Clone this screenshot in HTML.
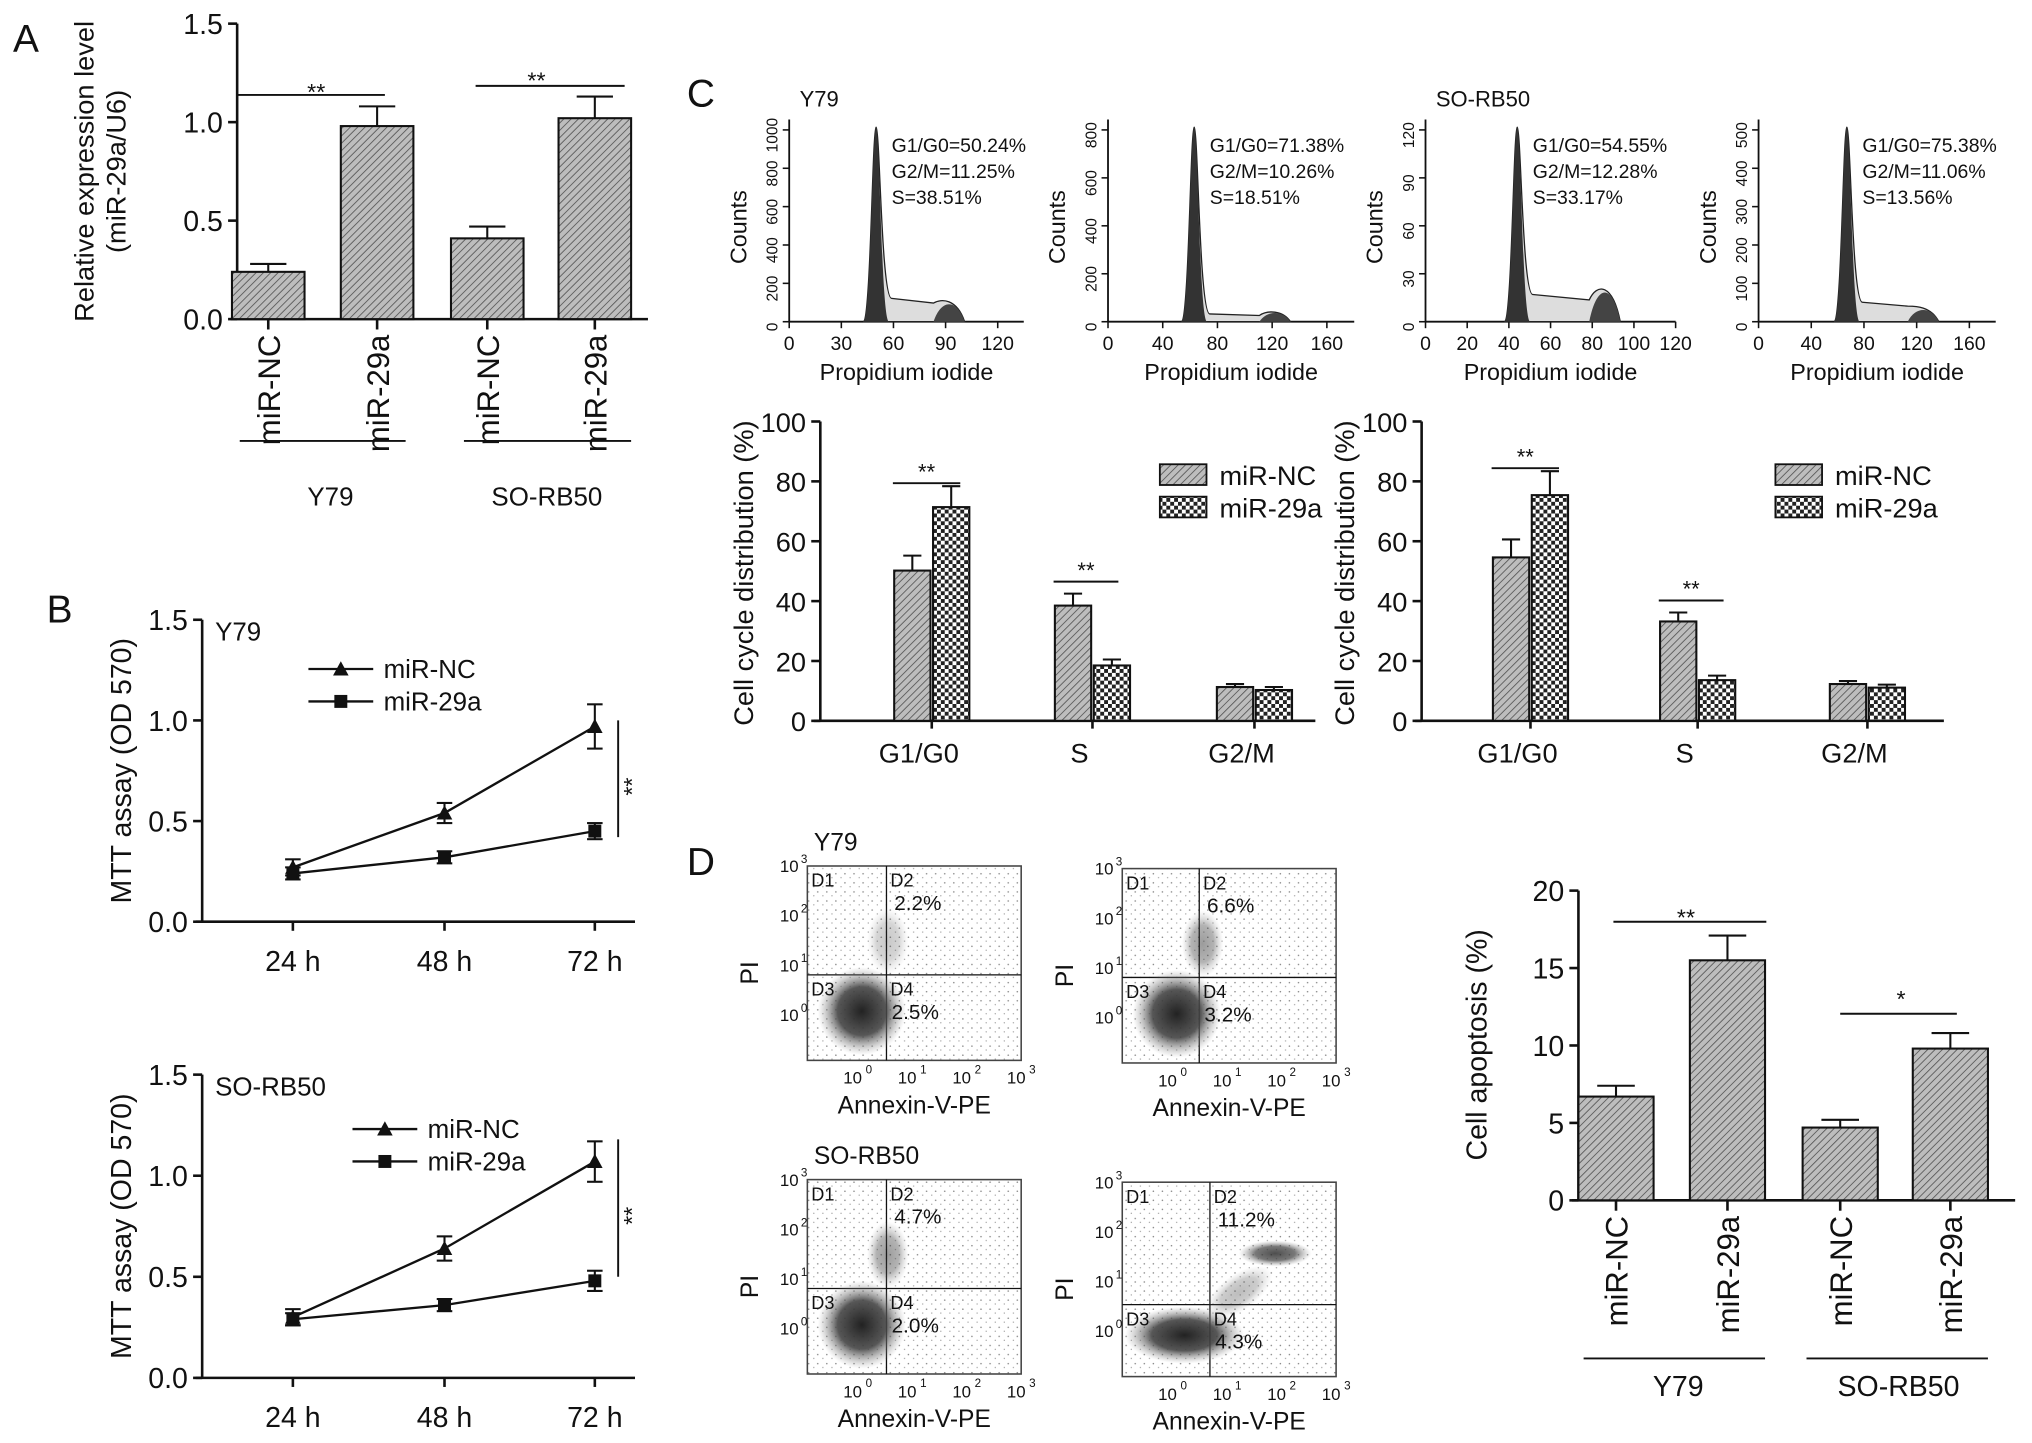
<!DOCTYPE html>
<html><head><meta charset="utf-8">
<style>
html,body{margin:0;padding:0;background:#fff}
svg{display:block;font-family:"Liberation Sans",Arial,sans-serif}
</style></head>
<body>
<svg id="fig" width="2032" height="1443" viewBox="0 0 1568 1113" xmlns="http://www.w3.org/2000/svg">
<defs>
<pattern id="hatch" patternUnits="userSpaceOnUse" width="4" height="4" patternTransform="rotate(45)">
<rect width="4" height="4" fill="#bdbdbd"/><line x1="0" y1="0" x2="0" y2="4" stroke="#555" stroke-width="1.3"/></pattern>
<pattern id="check" patternUnits="userSpaceOnUse" width="6" height="6">
<rect width="6" height="6" fill="#fff"/><rect width="3" height="3" fill="#222"/><rect x="3" y="3" width="3" height="3" fill="#222"/></pattern>
<radialGradient id="blob"><stop offset="0" stop-color="#222"/><stop offset="0.55" stop-color="#444" stop-opacity="0.9"/><stop offset="1" stop-color="#999" stop-opacity="0"/></radialGradient>
<pattern id="speck" patternUnits="userSpaceOnUse" width="7" height="7">
<circle cx="1" cy="2" r="0.6" fill="#888"/><circle cx="5" cy="5" r="0.5" fill="#999"/></pattern>
</defs>
<g id="root"></g>
</svg>
<script>
// Panel A
const aCats = ["miR-NC","miR-29a","miR-NC","miR-29a"];
const aVals = [0.24,0.98,0.41,1.02];
const aErr = [0.04,0.10,0.06,0.11];
const aTicks = ["0.0","0.5","1.0","1.5"];
// Panel B
const bTimes = ["24 h","48 h","72 h"];
const bY79NC = [0.27,0.54,0.97];
const bY79NCe = [0.04,0.05,0.11];
const bY7929 = [0.24,0.32,0.45];
const bY7929e = [0.03,0.03,0.04];
const bSONC = [0.30,0.64,1.07];
const bSONCe = [0.04,0.06,0.10];
const bSO29 = [0.29,0.36,0.48];
const bSO29e = [0.03,0.03,0.05];
const bTicks = ["0.0","0.5","1.0","1.5"];
// Panel C bars
const cPhases = ["G1/G0","S","G2/M"];
const cY79NC = [50.2,38.5,11.3];
const cY79NCe = [5,4,1];
const cY7929 = [71.4,18.5,10.3];
const cY7929e = [7,2,1];
const cSONC = [54.6,33.2,12.3];
const cSONCe = [6,3,1];
const cSO29 = [75.4,13.6,11.1];
const cSO29e = [8,1.5,1];
const cTicks = ["0","20","40","60","80","100"];
// Panel D bars
const dCats = ["miR-NC","miR-29a","miR-NC","miR-29a"];
const dVals = [6.7,15.5,4.7,9.8];
const dErr = [0.7,1.6,0.5,1.0];
const dTicks = ["0","5","10","15","20"];

const NS="http://www.w3.org/2000/svg";
const root=document.getElementById('root');
function el(tag,attrs,parent,text){const e=document.createElementNS(NS,tag);for(const k in attrs)e.setAttribute(k,attrs[k]);if(text!==undefined)e.textContent=text;(parent||root).appendChild(e);return e;}
function line(x1,y1,x2,y2,w,p){return el('line',{x1,y1,x2,y2,stroke:'#111','stroke-width':w||1.6},p);}
function txt(x,y,s,size,anchor,p,rot){const a={x,y,'font-size':size,'text-anchor':anchor||'middle',fill:'#111'};if(rot)a.transform=`rotate(-90 ${x} ${y})`;return el('text',a,p,s);}
function grp(name){const g=el('g',{});return g;}

[["A",10,40],["B",36,480],["C",530,82],["D",530,675]].forEach(l=>{const t=txt(l[1],l[2],l[0],30,'start');});

function barChart(g,o){
  const ys=v=>o.y0-(v-o.min)/(o.max-o.min)*(o.y0-o.y1);
  line(o.x0,o.y0,o.x0,o.y1,2,g);line(o.x0-5,o.y0,o.xEnd,o.y0,2,g);
  o.ticks.forEach(t=>{const y=ys(parseFloat(t));line(o.x0-7,y,o.x0,y,2,g);const tl=txt(o.x0-11,y+8,t,o.tsize||22,'end',g);});
  return ys;
}
function drawBar(g,cx,w,v,e,ys,fill,y0){
  const r=el('rect',{x:cx-w/2,y:ys(v),width:w,height:y0-ys(v),fill:fill,stroke:'#111','stroke-width':1.6},g);
  
  line(cx,ys(v),cx,ys(v+e),1.6,g);line(cx-w/4,ys(v+e),cx+w/4,ys(v+e),1.6,g);
}

// Panel A
(function(){const g=grp('panel-a-chart');
 const o={x0:183,y0:246,y1:18,min:0,max:1.5,xEnd:500,ticks:aTicks};
 const ys=barChart(g,o);const cx=[207,291,376,459];
 aVals.forEach((v,i)=>{drawBar(g,cx[i],56,v,aErr[i],ys,'url(#hatch)',o.y0);line(cx[i],o.y0,cx[i],o.y0+8,2,g);
  const t=txt(cx[i]+9,o.y0+12,aCats[i],24,'end',g,true);});
 const yt=txt(72,132,"Relative expression level",21,'middle',g,true);
 txt(97,132,"(miR-29a/U6)",21,'middle',g,true);
 line(185,340,313,340,1.5,g);line(358,340,487,340,1.5,g);
 txt(255,390,"Y79",20,'middle',g);txt(422,390,"SO-RB50",20,'middle',g);
 line(183,73,297,73,1.5,g);txt(244,77,"**",18,'middle',g);
 line(367,66,482,66,1.5,g);txt(414,68,"**",18,'middle',g);
})();

function lineChart(name,yTop,y0,nc,nce,a,ae,legY,legX,label,sig){
 const g=grp(name);const o={x0:156,y0:y0,y1:yTop,min:0,max:1.5,xEnd:490,ticks:bTicks};
 const ys=barChart(g,o);const xs=[226,343,459];
 bTimes.forEach((t,i)=>{line(xs[i],y0,xs[i],y0+7,2,g);const l=txt(xs[i],y0+38,t,22,'middle',g);});
 [[nc,nce,'tri','miR-NC'],[a,ae,'sq','miR-29a']].forEach((s,k)=>{
  const pts=s[0].map((v,i)=>xs[i]+','+ys(v)).join(' ');
  const pl=el('polyline',{points:pts,fill:'none',stroke:'#111','stroke-width':1.8},g);
  s[0].forEach((v,i)=>{line(xs[i],ys(v-s[1][i]),xs[i],ys(v+s[1][i]),1.6,g);line(xs[i]-6,ys(v+s[1][i]),xs[i]+6,ys(v+s[1][i]),1.6,g);line(xs[i]-6,ys(v-s[1][i]),xs[i]+6,ys(v-s[1][i]),1.6,g);
   let m;if(s[2]==='tri')m=el('polygon',{points:`${xs[i]-6},${ys(v)+5} ${xs[i]+6},${ys(v)+5} ${xs[i]},${ys(v)-6}`,fill:'#111'},g);else m=el('rect',{x:xs[i]-5,y:ys(v)-5,width:10,height:10,fill:'#111'},g);
   });
  const ly=legY+k*25;line(legX,ly,legX+50,ly,1.8,g);
  if(s[2]==='tri')el('polygon',{points:`${legX+19},${ly+5} ${legX+31},${ly+5} ${legX+25},${ly-6}`,fill:'#111'},g);else el('rect',{x:legX+20,y:ly-5,width:10,height:10,fill:'#111'},g);
  const lt=txt(legX+58,ly+7,s[3],20,'start',g);});
 txt(166,yTop+16,label,20,'start',g);
 const yt=txt(101,(yTop+y0)/2,"MTT assay (OD 570)",22,'middle',g,true);
 line(477,ys(sig[0]),477,ys(sig[1]),1.5,g);txt(494,ys((sig[0]+sig[1])/2)+6,"**",18,'middle',g,true);
}
lineChart('panel-b-y79',478,711,bY79NC,bY79NCe,bY7929,bY7929e,516,238,"Y79",[0.42,1.0]);
lineChart('panel-b-sorb50',829,1063,bSONC,bSONCe,bSO29,bSO29e,871,272,"SO-RB50",[0.5,1.18]);

// Panel C histograms
const hists=[{x0:609,x1:790,ticks:["0","30","60","90","120"],tmax:135,yt:["0","200","400","600","800","1000"],peak:50,g2:92,txt:["G1/G0=50.24%","G2/M=11.25%","S=38.51%"],s:0.12,g2h:0.12,title:"Y79"},
 {x0:855,x1:1045,ticks:["0","40","80","120","160"],tmax:180,yt:["0","200","400","600","800"],peak:63,g2:122,txt:["G1/G0=71.38%","G2/M=10.26%","S=18.51%"],s:0.04,g2h:0.06,title:""},
 {x0:1100,x1:1293,ticks:["0","20","40","60","80","100","120"],tmax:120,yt:["0","30","60","90","120"],peak:44,g2:86,txt:["G1/G0=54.55%","G2/M=12.28%","S=33.17%"],s:0.14,g2h:0.2,title:"SO-RB50"},
 {x0:1357,x1:1540,ticks:["0","40","80","120","160"],tmax:180,yt:["0","100","200","300","400","500"],peak:67,g2:125,txt:["G1/G0=75.38%","G2/M=11.06%","S=13.56%"],s:0.1,g2h:0.08,title:""}];
hists.forEach((h,k)=>{const g=grp('histogram-'+(k+1));const y0=248,yT=92;
 line(h.x0,y0,h.x1,y0,1.4,g);line(h.x0,y0,h.x0,yT,1.4,g);
 const xs=v=>h.x0+v/h.tmax*(h.x1-h.x0);
 h.ticks.forEach(t=>{const x=xs(+t);line(x,y0,x,y0+5,1.2,g);txt(x,y0+22,t,15,'middle',g);});
 h.yt.forEach((t,i)=>{const y=y0-i*(y0-yT-8)/(h.yt.length-1);line(h.x0-5,y,h.x0,y,1.2,g);txt(h.x0-9,y+4,t,12,'middle',g,true);});
 txt((h.x0+h.x1)/2,y0+45,"Propidium iodide",18,'middle',g);
 txt(h.x0-33,(y0+yT)/2+5,"Counts",18,'middle',g,true);
 const pk=xs(h.peak),g2=xs(h.g2),H=y0-yT-6;
 el('path',{d:`M${pk-10},${y0} C${pk-4},${y0} ${pk-3},${yT+8} ${pk},${yT+6} C${pk+3},${yT+8} ${pk+4},${y0-H*h.s} ${pk+12},${y0-H*h.s} L${g2-12},${y0-H*h.s*0.8} C${g2-6},${y0-H*h.g2h} ${g2+6},${y0-H*h.g2h} ${g2+12},${y0} Z`,fill:'#ddd',stroke:'#222','stroke-width':1},g);
 el('path',{d:`M${pk-10},${y0} C${pk-4},${y0} ${pk-3},${yT+8} ${pk},${yT+6} C${pk+3},${yT+8} ${pk+4},${y0} ${pk+10},${y0} Z`,fill:'#333'},g);
 el('path',{d:`M${g2-12},${y0} C${g2-6},${y0-H*h.g2h} ${g2+6},${y0-H*h.g2h} ${g2+12},${y0} Z`,fill:'#444'},g);
 h.txt.forEach((s,i)=>txt(pk+12,yT+25+i*20,s,15,'start',g));
 if(h.title)txt(h.x0+8,yT-10,h.title,17,'start',g);
});

function cChart(name,x0,xEnd,centers,nc,nce,a,ae,legX){
 const g=grp(name);const o={x0:x0,y0:556,y1:325,min:0,max:100,xEnd:xEnd,ticks:cTicks,tsize:21};
 const ys=barChart(g,o);
 cPhases.forEach((p,i)=>{drawBar(g,centers[i]-15,28,nc[i],nce[i],ys,'url(#hatch)',556);drawBar(g,centers[i]+15,28,a[i],ae[i],ys,'url(#check)',556);
  line(centers[i],556,centers[i],562,2,g);const l=txt(centers[i]-10,588,p,21,'middle',g);});
 const yt=txt(x0-52,442,"Cell cycle distribution (%)",21,'middle',g,true);
 [["url(#hatch)","miR-NC"],["url(#check)","miR-29a"]].forEach((s,k)=>{el('rect',{x:legX,y:358+k*25,width:36,height:16,fill:s[0],stroke:'#111','stroke-width':1.4},g);
  const lt=txt(legX+46,374+k*25,s[1],21,'start',g);});
 const gy=ys(a[0]+ae[0]+1);
 line(centers[0]-30,gy,centers[0]+22,gy,1.5,g);txt(centers[0]-4,gy-3,"**",17,'middle',g);
 const sy=ys(nc[1]+nce[1]+4);line(centers[1]-30,sy,centers[1]+20,sy,1.5,g);txt(centers[1]-5,sy-3,"**",17,'middle',g);
}
cChart('panel-c-y79-bars',633,1015,[719,843,968],cY79NC,cY79NCe,cY7929,cY7929e,895);
cChart('panel-c-sorb50-bars',1097,1500,[1181,1310,1441],cSONC,cSONCe,cSO29,cSO29e,1370);

// Panel D flow plots
const flows=[{x:623,y:668,d2:"2.2%",d4:"2.5%",t:"Y79",q:1,qx:0.37,qy:0.56},{x:866,y:670,d2:"6.6%",d4:"3.2%",t:"",q:2,qx:0.36,qy:0.56},{x:623,y:910,d2:"4.7%",d4:"2.0%",t:"SO-RB50",q:2,qx:0.37,qy:0.56},{x:866,y:912,d2:"11.2%",d4:"4.3%",t:"",q:3,qx:0.41,qy:0.63}];
flows.forEach((f,k)=>{const g=grp('flow-plot-'+(k+1));const w=165,h=150;
 el('rect',{x:f.x,y:f.y,width:w,height:h,fill:'url(#speck)',stroke:'#444','stroke-width':1.2},g);
 const qx=f.x+w*f.qx,qy=f.y+h*f.qy;line(qx,f.y,qx,f.y+h,1,g);line(f.x,qy,f.x+w,qy,1,g);
 if(f.q>2){el('ellipse',{cx:f.x+48,cy:f.y+118,rx:46,ry:22,fill:'url(#blob)'},g);
  el('ellipse',{cx:f.x+118,cy:f.y+55,rx:28,ry:10,fill:'url(#blob)',opacity:0.8},g);
  el('ellipse',{cx:f.x+90,cy:f.y+85,rx:30,ry:14,fill:'url(#blob)',opacity:0.3,transform:`rotate(-35 ${f.x+90} ${f.y+85})`},g);}
 else{el('ellipse',{cx:f.x+42,cy:f.y+112,rx:34,ry:34,fill:'url(#blob)'},g);
  el('ellipse',{cx:f.x+62,cy:f.y+58,rx:16,ry:26,fill:'url(#blob)',opacity:f.q>1?0.45:0.25},g);}
 txt(f.x+3,f.y+16,"D1",14,'start',g);txt(qx+3,f.y+16,"D2",14,'start',g);txt(f.x+3,qy+16,"D3",14,'start',g);txt(qx+3,qy+16,"D4",14,'start',g);
 txt(qx+6,f.y+34,f.d2,16,'start',g);txt(qx+4,qy+34,f.d4,16,'start',g);
 ["0","1","2","3"].forEach((e,i)=>{const x=f.x+w*(0.23+i*0.255);txt(x-3,f.y+h+18,"10",13,'middle',g);txt(x+7,f.y+h+10,e,9,'start',g);
   const y=f.y+h*(0.77-i*0.255);txt(f.x-14,y+4,"10",13,'middle',g);txt(f.x-5,y-3,e,9,'start',g);});
 txt(f.x+w/2,f.y+h+41,"Annexin-V-PE",19,'middle',g);
 txt(f.x-38,f.y+h*0.55,"PI",19,'middle',g,true);
 if(f.t)txt(f.x+5,f.y-12,f.t,19,'start',g);
});

// Panel D bar chart
(function(){const g=grp('panel-d-apoptosis-chart');
 const o={x0:1218,y0:926,y1:687,min:0,max:20,xEnd:1555,ticks:dTicks};
 const ys=barChart(g,o);const cx=[1247,1333,1420,1505];
 dVals.forEach((v,i)=>{drawBar(g,cx[i],58,v,dErr[i],ys,'url(#hatch)',o.y0);line(cx[i],o.y0,cx[i],o.y0+8,2,g);
  const t=txt(cx[i]+9,o.y0+12,dCats[i],24,'end',g,true);});
 const yt=txt(1147,806,"Cell apoptosis (%)",22,'middle',g,true);
 line(1222,1048,1362,1048,1.5,g);line(1394,1048,1534,1048,1.5,g);
 txt(1295,1077,"Y79",22,'middle',g);txt(1465,1077,"SO-RB50",22,'middle',g);
 line(1245,711,1363,711,1.5,g);txt(1301,714,"**",18,'middle',g);
 line(1420,782,1510,782,1.5,g);txt(1467,777,"*",18,'middle',g);
})();
</script>
</body></html>
